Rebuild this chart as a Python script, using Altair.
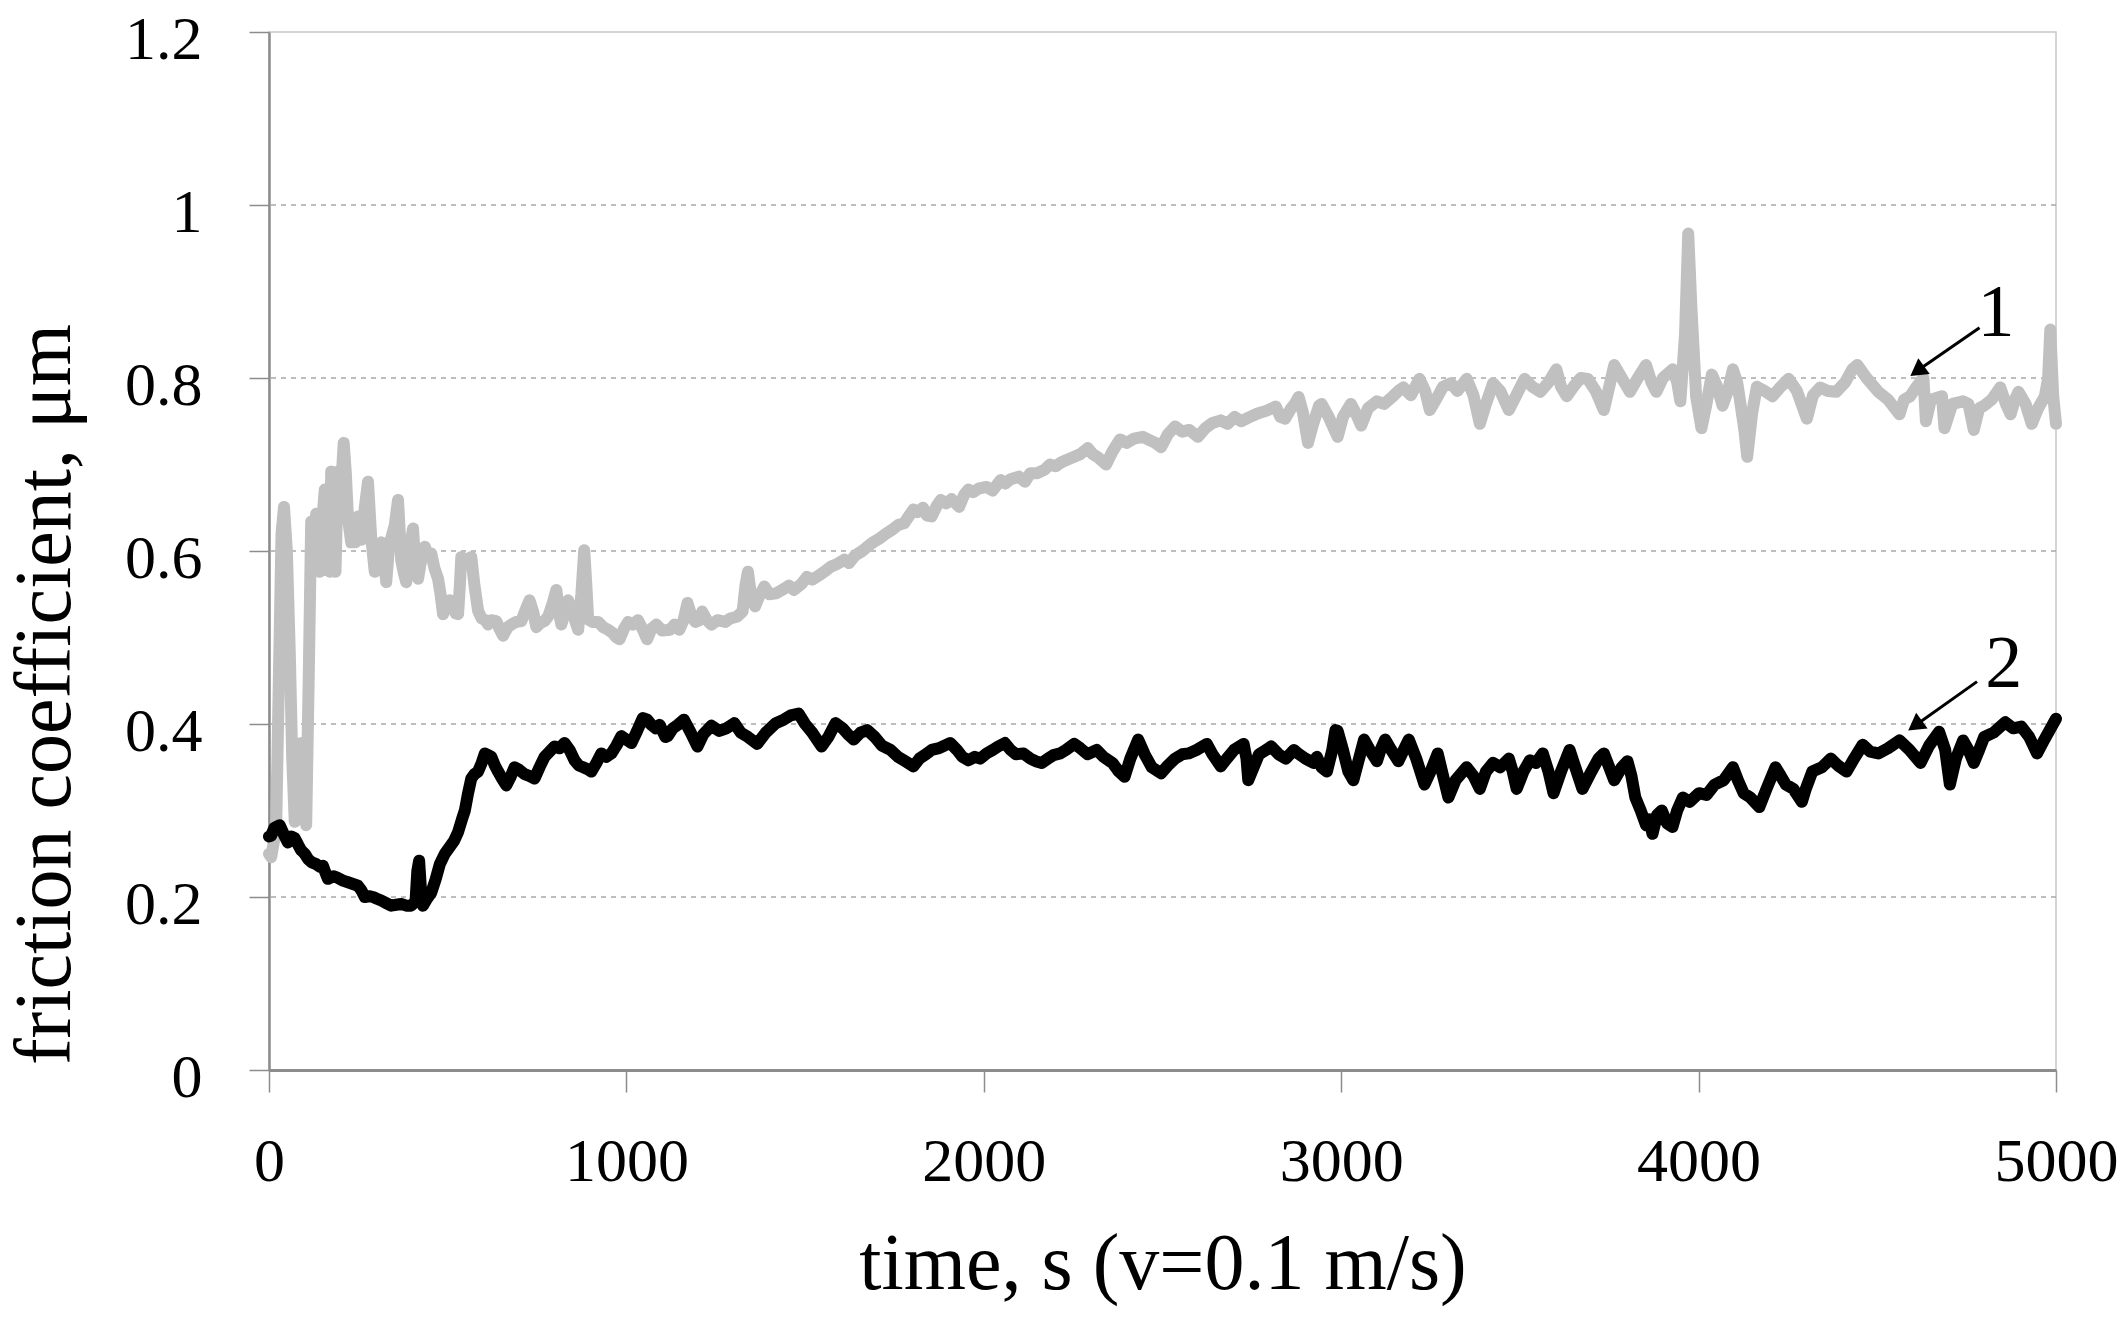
import altair as alt
import pandas as pd

FONT = "Liberation Serif"

# ---- series 1 (grey) : time (s), friction coefficient
t1 = [0, 6, 20, 35, 42, 50, 58, 65, 72, 80, 90, 97, 104, 111, 118, 125, 132, 142, 150, 156,
      163, 170, 174, 180, 186, 193, 200, 209, 215, 221, 230, 240, 250, 258, 268, 277, 286, 296, 305, 314,
      322, 328, 335, 342, 352, 361, 370, 377, 384, 393, 403, 410, 417, 426, 436, 445, 454, 463, 473, 480,
      487, 495, 506, 515, 522, 529, 534, 538, 545, 552, 566, 575, 585, 595, 605, 613, 622, 636, 645, 655,
      668, 678, 692, 706, 716, 729, 739, 748, 760, 771, 782, 794, 804, 811, 818, 828, 837, 848, 856, 865,
      874, 882, 888, 893, 905, 921, 935, 949, 962, 972, 981, 993, 1005, 1018, 1032, 1045, 1058, 1070, 1084, 1100,
      1122, 1135, 1148, 1160, 1171, 1182, 1193, 1205, 1212, 1225, 1238, 1255, 1277, 1290, 1309, 1325, 1333, 1340, 1350, 1360,
      1372, 1386, 1400, 1418, 1440, 1455, 1469, 1490, 1505, 1520, 1540, 1560, 1572, 1590, 1610, 1623, 1640, 1660, 1674, 1690,
      1710, 1726, 1745, 1760, 1777, 1790, 1803, 1815, 1830, 1841, 1854, 1868, 1880, 1895, 1910, 1931, 1945, 1957, 1970, 1985,
      2008, 2025, 2047, 2060, 2075, 2098, 2115, 2130, 2150, 2170, 2185, 2201, 2215, 2230, 2253, 2270, 2291, 2305, 2320, 2342,
      2360, 2381, 2400, 2420, 2445, 2465, 2480, 2496, 2515, 2535, 2555, 2575, 2599, 2620, 2640, 2663, 2682, 2702, 2720, 2745,
      2766, 2790, 2817, 2830, 2843, 2860, 2870, 2881, 2893, 2907, 2920, 2938, 2945, 2965, 2990, 3005, 3027, 3040, 3056, 3075,
      3100, 3120, 3145, 3160, 3174, 3195, 3219, 3235, 3248, 3265, 3285, 3307, 3325, 3351, 3370, 3388, 3405, 3425, 3445, 3469,
      3490, 3513, 3535, 3557, 3580, 3602, 3615, 3631, 3650, 3670, 3690, 3712, 3735, 3750, 3764, 3785, 3808, 3830, 3853, 3868,
      3882, 3900, 3927, 3940, 3949, 3962, 3971, 3980, 3993, 4008, 4022, 4037, 4052, 4067, 4082, 4096, 4108, 4118, 4128, 4136,
      4150, 4163, 4185, 4207, 4230, 4252, 4275, 4303, 4320, 4340, 4362, 4385, 4410, 4430, 4444, 4470, 4503, 4530, 4562, 4575,
      4592, 4610, 4629, 4636, 4650, 4681, 4688, 4710, 4740, 4755, 4770, 4785, 4799, 4820, 4844, 4860, 4873, 4885, 4895, 4915,
      4932, 4950, 4969, 4978, 4984, 4992, 5000]
v1 = [0.250, 0.246, 0.279, 0.620, 0.651, 0.600, 0.485, 0.360, 0.287, 0.310, 0.378, 0.330, 0.283, 0.450, 0.634, 0.600, 0.643, 0.576, 0.640, 0.671,
      0.620, 0.576, 0.692, 0.620, 0.576, 0.692, 0.660, 0.725, 0.690, 0.638, 0.610, 0.610, 0.640, 0.613, 0.650, 0.680, 0.615, 0.576, 0.600, 0.610,
      0.590, 0.564, 0.600, 0.615, 0.630, 0.659, 0.589, 0.575, 0.564, 0.600, 0.626, 0.580, 0.568, 0.590, 0.605, 0.595, 0.597, 0.580, 0.568, 0.550,
      0.527, 0.535, 0.543, 0.535, 0.528, 0.527, 0.560, 0.593, 0.585, 0.590, 0.593, 0.560, 0.531, 0.522, 0.520, 0.515, 0.520, 0.519, 0.510, 0.502,
      0.512, 0.515, 0.518, 0.519, 0.530, 0.543, 0.530, 0.512, 0.517, 0.519, 0.525, 0.540, 0.555, 0.530, 0.515, 0.530, 0.543, 0.530, 0.520, 0.509,
      0.550, 0.601, 0.560, 0.521, 0.518, 0.518, 0.512, 0.509, 0.505, 0.500, 0.498, 0.510, 0.518, 0.515, 0.520, 0.510, 0.498, 0.510, 0.515, 0.508,
      0.509, 0.515, 0.509, 0.520, 0.540, 0.525, 0.518, 0.520, 0.530, 0.520, 0.515, 0.520, 0.518, 0.522, 0.524, 0.530, 0.560, 0.576, 0.545, 0.536,
      0.548, 0.559, 0.550, 0.551, 0.556, 0.560, 0.555, 0.562, 0.570, 0.567, 0.572, 0.578, 0.582, 0.585, 0.590, 0.586, 0.595, 0.600, 0.605, 0.610,
      0.615, 0.620, 0.625, 0.630, 0.632, 0.640, 0.648, 0.645, 0.650, 0.641, 0.640, 0.652, 0.659, 0.655, 0.660, 0.651, 0.665, 0.671, 0.668, 0.672,
      0.674, 0.670, 0.682, 0.678, 0.683, 0.686, 0.680, 0.690, 0.690, 0.694, 0.700, 0.698, 0.702, 0.705, 0.709, 0.712, 0.719, 0.712, 0.708, 0.700,
      0.715, 0.729, 0.725, 0.730, 0.732, 0.728, 0.725, 0.720, 0.735, 0.744, 0.738, 0.740, 0.732, 0.742, 0.748, 0.751, 0.747, 0.755, 0.750, 0.755,
      0.759, 0.762, 0.767, 0.755, 0.753, 0.765, 0.770, 0.778, 0.760, 0.725, 0.745, 0.768, 0.770, 0.755, 0.732, 0.755, 0.770, 0.760, 0.745, 0.765,
      0.773, 0.770, 0.779, 0.785, 0.789, 0.780, 0.799, 0.785, 0.763, 0.775, 0.790, 0.794, 0.785, 0.799, 0.780, 0.747, 0.770, 0.794, 0.785, 0.763,
      0.780, 0.799, 0.790, 0.784, 0.795, 0.810, 0.790, 0.779, 0.790, 0.800, 0.799, 0.785, 0.763, 0.790, 0.815, 0.800, 0.784, 0.800, 0.815, 0.795,
      0.784, 0.800, 0.810, 0.795, 0.773, 0.850, 0.967, 0.880, 0.779, 0.742, 0.770, 0.804, 0.790, 0.768, 0.785, 0.810, 0.795, 0.768, 0.740, 0.709,
      0.760, 0.790, 0.785, 0.779, 0.790, 0.799, 0.785, 0.753, 0.780, 0.789, 0.785, 0.784, 0.795, 0.810, 0.815, 0.800, 0.784, 0.775, 0.758, 0.775,
      0.779, 0.790, 0.800, 0.750, 0.775, 0.779, 0.742, 0.770, 0.773, 0.770, 0.740, 0.765, 0.768, 0.775, 0.789, 0.770, 0.758, 0.775, 0.784, 0.770,
      0.747, 0.765, 0.779, 0.800, 0.856, 0.780, 0.747]

# ---- series 2 (black)
t2 = [0, 6, 15, 30, 42, 53, 62, 72, 82, 90, 100, 109, 120, 132, 142, 151, 158, 165, 180, 193,
      207, 221, 235, 249, 258, 268, 280, 291, 302, 314, 328, 342, 356, 370, 384, 398, 410, 415, 420, 425,
      431, 442, 454, 466, 478, 492, 506, 518, 529, 540, 548, 557, 566, 575, 585, 595, 604, 613, 622, 632,
      641, 652, 664, 675, 687, 700, 715, 728, 743, 757, 771, 785, 799, 813, 827, 841, 855, 867, 879, 890,
      902, 916, 930, 944, 958, 972, 986, 1000, 1014, 1030, 1046, 1058, 1070, 1082, 1093, 1109, 1116, 1130, 1144, 1161,
      1180, 1199, 1215, 1238, 1260, 1280, 1302, 1320, 1340, 1366, 1390, 1418, 1440, 1460, 1482, 1500, 1520, 1546, 1565, 1585,
      1605, 1620, 1636, 1655, 1674, 1695, 1715, 1739, 1760, 1780, 1803, 1820, 1838, 1854, 1875, 1890, 1906, 1925, 1940, 1957,
      1975, 1990, 2008, 2025, 2040, 2059, 2075, 2090, 2111, 2130, 2145, 2162, 2180, 2195, 2214, 2230, 2253, 2270, 2290, 2316,
      2335, 2360, 2378, 2394, 2410, 2432, 2450, 2470, 2496, 2515, 2535, 2555, 2573, 2595, 2624, 2640, 2663, 2680, 2700, 2727,
      2735, 2740, 2755, 2770, 2790, 2804, 2825, 2845, 2868, 2879, 2900, 2923, 2932, 2945, 2960, 2975, 2984, 2990, 3005, 3020,
      3034, 3050, 3064, 3080, 3100, 3110, 3123, 3140, 3160, 3175, 3189, 3210, 3233, 3250, 3270, 3285, 3300, 3320, 3351, 3370,
      3388, 3405, 3425, 3445, 3469, 3480, 3491, 3510, 3528, 3545, 3564, 3580, 3594, 3615, 3639, 3655, 3675, 3700, 3720, 3735,
      3750, 3764, 3785, 3801, 3812, 3823, 3838, 3853, 3862, 3871, 3884, 3897, 3912, 3927, 3940, 3956, 3975, 4001, 4022, 4045,
      4070, 4096, 4110, 4126, 4145, 4170, 4190, 4215, 4230, 4244, 4265, 4289, 4300, 4318, 4345, 4370, 4390, 4414, 4435, 4459,
      4480, 4503, 4530, 4562, 4590, 4621, 4645, 4673, 4690, 4703, 4720, 4740, 4755, 4770, 4785, 4799, 4825, 4858, 4880, 4903,
      4925, 4947, 4965, 4985, 5000]
v2 = [0.270, 0.271, 0.280, 0.283, 0.272, 0.263, 0.270, 0.268, 0.260, 0.254, 0.250, 0.244, 0.240, 0.238, 0.235, 0.236, 0.228, 0.221, 0.224, 0.222,
      0.219, 0.217, 0.215, 0.213, 0.208, 0.200, 0.201, 0.200, 0.198, 0.196, 0.193, 0.190, 0.191, 0.192, 0.190, 0.190, 0.195, 0.230, 0.242, 0.210,
      0.190, 0.198, 0.205, 0.220, 0.238, 0.250, 0.258, 0.265, 0.275, 0.290, 0.300, 0.320, 0.337, 0.342, 0.345, 0.355, 0.366, 0.364, 0.362, 0.352,
      0.345, 0.337, 0.329, 0.338, 0.350, 0.347, 0.342, 0.340, 0.337, 0.350, 0.362, 0.368, 0.374, 0.372, 0.378, 0.370, 0.358, 0.352, 0.350, 0.348,
      0.345, 0.355, 0.366, 0.362, 0.366, 0.375, 0.386, 0.382, 0.378, 0.392, 0.407, 0.405, 0.399, 0.395, 0.399, 0.385, 0.386, 0.395, 0.399, 0.405,
      0.390, 0.374, 0.388, 0.398, 0.392, 0.395, 0.401, 0.390, 0.385, 0.377, 0.390, 0.401, 0.405, 0.410, 0.412, 0.400, 0.390, 0.374, 0.385, 0.401,
      0.395, 0.388, 0.382, 0.390, 0.393, 0.385, 0.375, 0.370, 0.362, 0.357, 0.351, 0.360, 0.365, 0.370, 0.372, 0.375, 0.378, 0.370, 0.362, 0.358,
      0.362, 0.360, 0.366, 0.370, 0.374, 0.378, 0.370, 0.365, 0.366, 0.360, 0.357, 0.355, 0.360, 0.364, 0.366, 0.370, 0.377, 0.372, 0.365, 0.370,
      0.362, 0.355, 0.345, 0.339, 0.360, 0.382, 0.365, 0.350, 0.343, 0.352, 0.360, 0.365, 0.366, 0.370, 0.377, 0.365, 0.351, 0.360, 0.370, 0.377,
      0.360, 0.335, 0.350, 0.365, 0.370, 0.374, 0.365, 0.360, 0.370, 0.366, 0.360, 0.355, 0.362, 0.350, 0.345, 0.370, 0.393, 0.392, 0.370, 0.345,
      0.335, 0.360, 0.382, 0.370, 0.357, 0.370, 0.382, 0.370, 0.357, 0.370, 0.382, 0.360, 0.330, 0.345, 0.366, 0.340, 0.315, 0.335, 0.350, 0.340,
      0.325, 0.345, 0.355, 0.350, 0.360, 0.345, 0.325, 0.345, 0.358, 0.355, 0.366, 0.345, 0.320, 0.345, 0.370, 0.350, 0.325, 0.345, 0.360, 0.366,
      0.350, 0.335, 0.350, 0.357, 0.340, 0.315, 0.300, 0.283, 0.290, 0.273, 0.295, 0.300, 0.285, 0.281, 0.300, 0.315, 0.310, 0.320, 0.318, 0.330,
      0.335, 0.350, 0.335, 0.320, 0.315, 0.304, 0.325, 0.350, 0.340, 0.330, 0.325, 0.310, 0.325, 0.345, 0.350, 0.360, 0.352, 0.345, 0.360, 0.376,
      0.368, 0.366, 0.372, 0.381, 0.370, 0.355, 0.375, 0.391, 0.370, 0.330, 0.360, 0.381, 0.370, 0.355, 0.370, 0.385, 0.390, 0.402, 0.395, 0.397,
      0.385, 0.366, 0.380, 0.395, 0.406]

# ---- axes
x_ticks = [0, 1000, 2000, 3000, 4000, 5000]
y_ticks = [0, 0.2, 0.4, 0.6, 0.8, 1.0, 1.2]
grid_vals = [0.2, 0.4, 0.6, 0.8, 1.0]

# ---- annotations: label, label position, arrow tail and head
ann_labels = ["1", "2"]
ann_t = [4832, 4854]
ann_v = [0.849, 0.443]
arrow_t_tail = [4786, 4779]
arrow_v_tail = [0.858, 0.449]
arrow_t_head = [4618, 4612]
arrow_v_head = [0.810, 0.400]

W, H = 1787, 1038
GREY = "#c0c0c0"
AXIS_GREY = "#8c8c8c"

x_enc = alt.X(
    "t:Q",
    scale=alt.Scale(domain=[0, 5000], nice=False, zero=False),
    axis=alt.Axis(
        values=x_ticks, format="d", grid=False,
        title="time, s (v=0.1 m/s)",
        labelFont=FONT, labelFontSize=62, labelColor="black",
        labelBaseline="alphabetic", labelPadding=88, labelFlush=False, labelOverlap=False,
        tickSize=22, tickColor=AXIS_GREY, tickWidth=1.5,
        domainColor=AXIS_GREY, domainWidth=3,
        titleFont=FONT, titleFontSize=80, titleFontWeight="normal", titleColor="black",
        titleBaseline="alphabetic", titleAlign="center", titleX=W / 2, titleY=218,
    ),
)
y_enc = alt.Y(
    "v:Q",
    scale=alt.Scale(domain=[0, 1.2], nice=False),
    axis=alt.Axis(
        values=y_ticks, labelExpr="format(datum.value, '~g')", grid=False,
        title="friction coefficient, μm",
        labelFont=FONT, labelFontSize=62, labelColor="black",
        labelBaseline="alphabetic", labelOffset=26, labelPadding=47, labelFlush=False, labelOverlap=False,
        tickSize=20, tickColor=AXIS_GREY, tickWidth=1.5,
        domainColor=AXIS_GREY, domainWidth=2.5,
        titleFont=FONT, titleFontSize=80, titleFontWeight="normal", titleColor="black",
        titleAngle=270, titleBaseline="alphabetic", titleAlign="center", titleX=-200, titleY=662,
    ),
)

df1 = pd.DataFrame({"t": t1, "v": v1})
df2 = pd.DataFrame({"t": t2, "v": v2})
grid_df = pd.DataFrame({"v": grid_vals})
lab_df = pd.DataFrame({"t": ann_t, "v": ann_v, "label": ann_labels})
arr_df = pd.DataFrame({"t": arrow_t_tail, "v": arrow_v_tail, "t2": arrow_t_head, "v2": arrow_v_head})
head_df = pd.DataFrame({"t": arrow_t_head, "v": arrow_v_head})

grid = alt.Chart(grid_df).mark_rule(color="#a8a8a8", strokeWidth=1.5, strokeDash=[5, 5]).encode(y=y_enc)

line1 = alt.Chart(df1).mark_line(color=GREY, strokeWidth=12, strokeJoin="round", strokeCap="round").encode(
    x=x_enc, y=y_enc)
line2 = alt.Chart(df2).mark_line(color="black", strokeWidth=12, strokeJoin="round", strokeCap="round").encode(
    x=x_enc, y=y_enc)

arrows = alt.Chart(arr_df).mark_rule(color="black", strokeWidth=3).encode(
    x=x_enc, y=y_enc, x2="t2:Q", y2="v2:Q")
heads = alt.Chart(head_df).mark_point(shape="triangle", filled=True, size=380, angle=234,
                                      color="black", opacity=1).encode(x=x_enc, y=y_enc)
labels = alt.Chart(lab_df).mark_text(font=FONT, fontSize=74, align="center", baseline="alphabetic",
                                     color="black").encode(x=x_enc, y=y_enc, text="label:N")

chart = alt.layer(grid, line1, line2, arrows, heads, labels).properties(
    width=W, height=H,
    autosize=alt.AutoSizeParams(type="none"),
    padding={"left": 261, "top": 24, "right": 63, "bottom": 247},
    background="white",
).configure_view(stroke="#c8c8c8", strokeWidth=1.5)

chart.save("out.html", embed_options={"renderer": "svg", "actions": False})
